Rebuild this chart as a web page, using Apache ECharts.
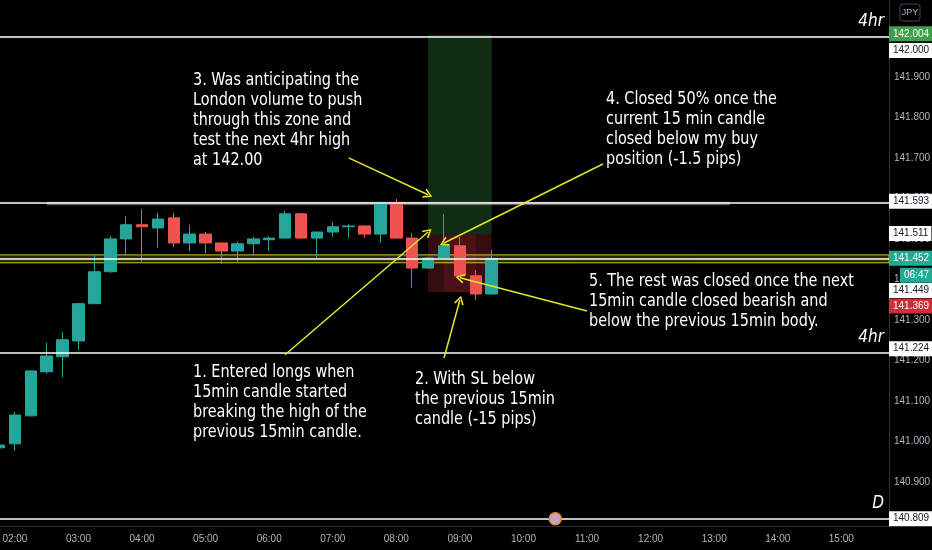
<!DOCTYPE html>
<html lang="en">
<head>
    <meta charset="UTF-8">
    <title>USDJPY 15m</title>
    <script src="https://cdn.jsdelivr.net/npm/echarts@6/dist/echarts.min.js"></script>
    <style>
        *{ margin: 0; padding: 0; }
        body,html{ width: 100%; height: 100%; overflow: hidden; background: #000; }
        .box{ width: 932px; height: 550px; }
    </style>
</head>
<body>
<div class="box"></div>
<script>
    // 15 min candles, 01:45 .. 15:45
    const times = ['01:45','02:00','02:15','02:30','02:45','03:00','03:15','03:30','03:45',
        '04:00','04:15','04:30','04:45','05:00','05:15','05:30','05:45','06:00','06:15','06:30','06:45',
        '07:00','07:15','07:30','07:45','08:00','08:15','08:30','08:45','09:00','09:15','09:30','09:45',
        '10:00','10:15','10:30','10:45','11:00','11:15','11:30','11:45','12:00','12:15','12:30','12:45',
        '13:00','13:15','13:30','13:45','14:00','14:15','14:30','14:45','15:00','15:15','15:30','15:45'];

    const opens  = [140.984,140.994,141.063,141.172,141.209,141.248,141.340,141.419,141.500,141.535,141.527,
        141.552,141.490,141.512,141.490,141.470,141.488,141.498,141.502,141.562,141.502,141.517,141.530,141.532,
        141.512,141.586,141.502,141.428,141.453,141.483,141.409,141.364];
    const closes = [140.991,141.065,141.174,141.211,141.251,141.340,141.419,141.500,141.535,141.530,141.549,
        141.490,141.512,141.490,141.470,141.488,141.500,141.502,141.562,141.502,141.517,141.530,141.532,141.512,
        141.586,141.502,141.428,141.453,141.483,141.409,141.364,141.452];
    const lows   = [140.978,140.977,141.062,141.167,141.159,141.226,141.340,141.416,141.460,141.443,141.478,
        141.480,141.470,141.465,141.438,141.443,141.460,141.470,141.502,141.500,141.453,141.505,141.502,141.502,
        141.490,141.500,141.379,141.426,141.451,141.407,141.349,141.362];
    const highs  = [140.996,141.073,141.175,141.243,141.270,141.342,141.460,141.507,141.557,141.574,141.564,
        141.564,141.535,141.517,141.490,141.493,141.505,141.507,141.569,141.564,141.518,141.542,141.537,141.533,
        141.589,141.599,141.515,141.455,141.562,141.505,141.423,141.473];

    // horizontal levels drawn across the chart
    const levels = [142.000, 141.593, 141.449, 141.224, 140.809];
    const levelTags = ['4hr', '', '', '4hr', 'D'];

    // long position: entry / take profit / stop
    const entry = 141.511, takeProfit = 142.004, stopLoss = 141.369;
    const positionFrom = '08:30', positionTo = '09:30', closedFrom = '08:45', closedTo = '09:15';

    // zones
    const zoneYellow = [141.4605, 141.441];
    const zoneGrey = [['02:30', 141.592], ['13:15', 141.583]];

    const lastPrice = 141.452, countdown = '06:47';
    const eventAt = ['10:30', 140.809];

    // arrows [from, to]
    const arrows = [
        [['07:15', 141.700], ['08:30', 141.609]],
        [['11:15', 141.685], ['08:45', 141.490]],
        [['06:15', 141.214], ['08:30', 141.517]],
        [['08:45', 141.206], ['09:00', 141.349]],
        [['11:00', 141.322], ['09:00', 141.404]]
    ];

    const notes = [
        {x: 193, y: 70, text: '3. Was anticipating the\nLondon volume to push\nthrough this zone and\ntest the next 4hr high\nat 142.00'},
        {x: 606, y: 89, text: '4. Closed 50% once the\ncurrent 15 min candle\nclosed below my buy\nposition (-1.5 pips)'},
        {x: 589, y: 271, text: '5. The rest was closed once the next\n15min candle closed bearish and\nbelow the previous 15min body.'},
        {x: 193, y: 362, text: '1. Entered longs when\n15min candle started\nbreaking the high of the\nprevious 15min candle.'},
        {x: 415, y: 369, text: '2. With SL below\nthe previous 15min\ncandle (-15 pips)'}
    ];

    const noteFont = '18px "DejaVu Sans Condensed", sans-serif';
    const axisFont = '"Liberation Sans", sans-serif';
    const UP = '#26a69a', DOWN = '#ef5350';

    let candles = opens.map((o, i) => [o, closes[i], lows[i], highs[i]]);

    // price tags on the right scale
    function tag(price, text, bg, fg, dx, dy) {
        return {
            coord: [times[times.length - 1], price],
            symbolSize: 0,
            label: {
                show: true, position: 'right', distance: 0,
                offset: [dx || 0, dy || 0],
                formatter: text,
                backgroundColor: bg, color: fg,
                padding: [2, 3, 2, 4], lineHeight: 11,
                fontSize: 10, fontFamily: axisFont
            }
        };
    }
    let tags = [
        tag(levels[4], levels[4].toFixed(3), '#fff', '#131722'),
        tag(levels[3], levels[3].toFixed(3), '#fff', '#131722', 0, -2),
        tag(stopLoss, stopLoss.toFixed(3), '#cc2f3a', '#fff', 0, 14),
        tag(levels[2], levels[2].toFixed(3), '#fff', '#131722', 0, 31),
        tag(lastPrice, countdown, '#22ab94', '#fff', 11, 17),
        tag(lastPrice, lastPrice.toFixed(3), '#22ab94', '#fff'),
        tag(entry, entry.toFixed(3), '#fff', '#131722', 0, -1),
        tag(levels[1], levels[1].toFixed(3), '#fff', '#131722'),
        tag(levels[0], levels[0].toFixed(3), '#fff', '#131722', 0, 14),
        tag(takeProfit, takeProfit.toFixed(3), '#3f9f4a', '#fff', 0, -1)
    ];
    tags.push({
        coord: eventAt, symbol: 'circle', symbolSize: 12,
        itemStyle: {color: '#c7a3c9', borderColor: '#e0902a', borderWidth: 1.5},
        label: {show: false}
    });

    const chevron = 'path://M0,10 L5,0 L10,10 L8.4,10.8 L5,3.2 L1.6,10.8 Z';

    let myChart = echarts.init(document.querySelector('.box'));

    let option = {
        backgroundColor: '#000',
        animation: false,
        grid: {left: -1, right: 43, top: 0, bottom: 24, outerBoundsMode: 'none', containLabel: false},
        xAxis: {
            type: 'category',
            data: times,
            boundaryGap: false,
            axisLine: {lineStyle: {color: '#2a2e39'}},
            axisTick: {show: false},
            splitLine: {show: false},
            axisLabel: {
                color: '#b2b5be', fontSize: 10, fontFamily: axisFont, margin: 8,
                interval: (i, v) => v.slice(3) === '00'
            }
        },
        yAxis: {
            type: 'value',
            position: 'right',
            min: 140.791,
            max: 142.090,
            splitNumber: 13,
            axisLine: {show: true, lineStyle: {color: '#2a2e39'}},
            axisTick: {show: false},
            splitLine: {show: false},
            axisLabel: {
                color: '#b2b5be', fontSize: 10, fontFamily: axisFont, margin: 5,
                showMinLabel: false, showMaxLabel: false,
                formatter: v => v.toFixed(3)
            }
        },
        series: [
            {
                // position boxes under the candles
                type: 'line', data: [], z: 1, clip: false, silent: true,
                markArea: {
                    silent: true,
                    data: [
                        [{coord: [positionFrom, takeProfit], itemStyle: {color: 'rgba(60,170,75,0.26)'}},
                            {coord: [positionTo, entry]}],
                        [{coord: [positionFrom, entry], itemStyle: {color: 'rgba(242,54,69,0.22)'}},
                            {coord: [positionTo, stopLoss]}],
                        [{coord: [closedFrom, entry], itemStyle: {color: 'rgba(242,54,69,0.12)'}},
                            {coord: [closedTo, stopLoss]}]
                    ]
                }
            },
            {
                type: 'candlestick',
                data: candles,
                z: 2,
                barWidth: 12,
                itemStyle: {
                    color: UP, color0: DOWN,
                    borderColor: UP, borderColor0: DOWN,
                    borderWidth: 1
                }
            },
            {
                // levels, zones and price tags
                type: 'line', data: [], z: 3, clip: false, silent: true,
                markArea: {
                    silent: true,
                    data: [
                        [{yAxis: zoneYellow[0], itemStyle: {color: 'rgba(200,200,20,0.2)', borderColor: '#c8c828', borderWidth: 1}},
                            {yAxis: zoneYellow[1]}],
                        [{coord: zoneGrey[0], itemStyle: {color: 'rgba(150,150,150,0.6)'}},
                            {coord: zoneGrey[1]}]
                    ]
                },
                markLine: {
                    silent: true,
                    symbol: 'none',
                    label: {show: false},
                    lineStyle: {color: '#fff', width: 1.5, type: 'solid'},
                    data: levels.map((v, i) => ({
                        yAxis: v,
                        label: {
                            show: levelTags[i] !== '', position: 'insideEndTop', distance: [5, 6],
                            formatter: levelTags[i], color: '#fff', fontStyle: 'italic',
                            fontSize: 17, fontFamily: '"DejaVu Sans Condensed", sans-serif'
                        }
                    }))
                },
                markPoint: {silent: true, data: tags}
            },
            {
                // yellow arrows
                type: 'line', data: [], z: 4, clip: false, silent: true,
                markLine: {
                    silent: true,
                    symbol: ['none', chevron],
                    symbolSize: [10, 9],
                    label: {show: false},
                    lineStyle: {color: '#e6e62a', width: 1.5, type: 'solid'},
                    data: arrows.map(a => [{coord: a[0]}, {coord: a[1]}])
                }
            }
        ],
        graphic: [
            {
                type: 'rect', z: 10,
                shape: {x: 900, y: 4, width: 20, height: 17, r: 3},
                style: {fill: '#000', stroke: '#434651', lineWidth: 1}
            },
            {
                type: 'text', z: 11, x: 910, y: 12.5,
                style: {text: 'JPY', fill: '#b2b5be', font: '9px ' + axisFont, align: 'center', verticalAlign: 'middle'}
            }
        ].concat(notes.map(n => ({
            type: 'text', z: 12, x: n.x, y: n.y, scaleX: 0.89,
            style: {text: n.text, fill: '#fff', font: noteFont, lineHeight: 20, verticalAlign: 'top'}
        })))
    };

    myChart.setOption(option);
</script>
</body>
</html>
